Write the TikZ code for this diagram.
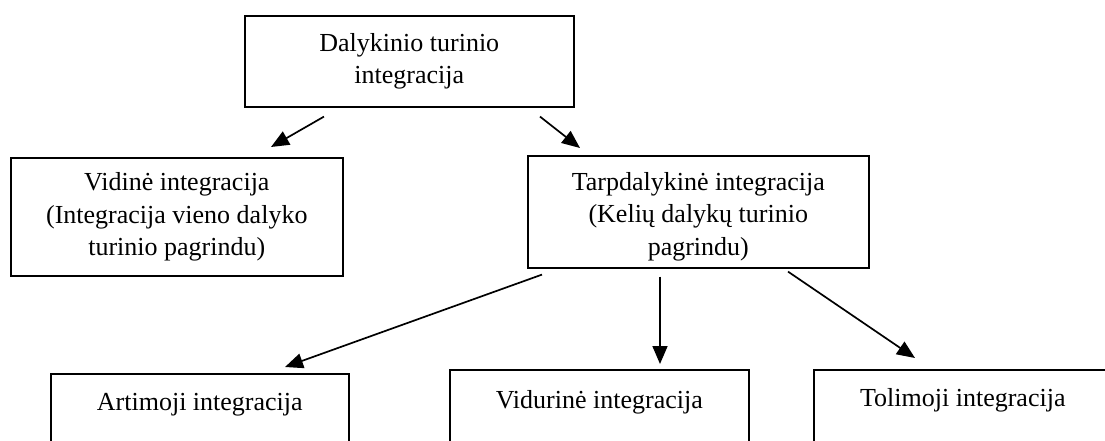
\documentclass[tikz,border=0pt]{standalone}
\usepackage{fontspec}
\setmainfont{Liberation Serif}
\usetikzlibrary{arrows.meta,calc}
\tikzset{
  box/.style={draw, line width=1.6pt, inner sep=0pt, anchor=north west,
    font=\fontsize{26}{32.5}\selectfont},
  mbox/.style={box, align=center},
  arr/.style={line width=1.7pt, -{Triangle[length=18pt,width=15pt]}}
}
\begin{document}
\begin{tikzpicture}[x=1pt,y=-1pt]
\useasboundingbox (0,0) rectangle (1105,441);
\clip (0,0) rectangle (1105,441);
\node[mbox, minimum width=329pt, minimum height=91pt] (top) at (244,15)
  {Dalykinio turinio\\integracija};
\node[mbox, minimum width=332pt, minimum height=118pt] (vid) at (10,157)
  {Vidinė integracija\\(Integracija vieno dalyko\\turinio pagrindu)};
\node[mbox, minimum width=341pt, minimum height=112pt] (tarp) at (527,155)
  {\rule{0pt}{28pt}Tarpdalykinė integracija\\(Kelių dalykų turinio\\pagrindu)};
\node[box, minimum width=298pt, text height=37pt, text depth=100pt] (art) at (50,373)
  {Artimoji integracija};
\node[box, minimum width=299pt, text height=39pt, text depth=100pt] (vidu) at (449,369)
  {Vidurinė integracija};
\node[box, minimum width=298pt, text height=37pt, text depth=100pt] (tol) at (813,369)
  {Tolimoji integracija};
\draw[arr] ($(top.south west)+(80,9)$) -- ($(vid.north west)+(261,-10)$);
\draw[arr] ($(top.south west)+(296,9)$) -- ($(tarp.north west)+(53,-7)$);
\draw[arr] ($(tarp.south west)+(15,6)$) -- ($(art.north west)+(235,-6)$);
\draw[arr] ($(tarp.south west)+(133,8)$) -- ($(vidu.north west)+(211,-5)$);
\draw[arr] ($(tarp.south west)+(261,3)$) -- ($(tol.north west)+(102,-11)$);
\end{tikzpicture}
\end{document}
